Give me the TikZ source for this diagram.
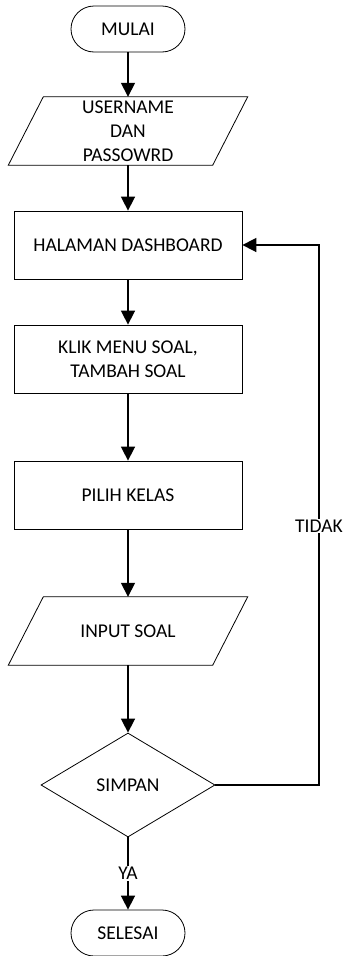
\documentclass[tikz,border=0pt]{standalone}
\usepackage{fontspec}
\setmainfont{Carlito}
\usetikzlibrary{shapes.geometric,arrows.meta}

\begin{document}
\begin{tikzpicture}[
  x=1pt, y=-1pt,
  every node/.style={font=\fontsize{19.5}{24}\selectfont, align=center},
  term/.style={draw, line width=0.8pt, rounded corners=23pt, minimum width=114pt, minimum height=46pt, inner sep=0pt},
  io/.style={minimum width=204pt, minimum height=68pt, inner sep=0pt},
  proc/.style={draw, line width=0.8pt, minimum width=228pt, minimum height=68pt, inner sep=0pt},
  dec/.style={draw, line width=0.8pt, diamond, aspect=1.67, minimum width=174pt, minimum height=104pt, inner sep=0pt},
  arr/.style={line width=1.6pt, -{Triangle[length=14pt,width=14pt]}},
  lbl/.style={fill=white, inner sep=1pt}
]
\useasboundingbox (0,0) rectangle (345,956);

\node[term] (mulai) at (128, 29) {MULAI};
\node[io] (user) at (128, 131) {USERNAME\\DAN\\PASSOWRD};
\node[proc] (dash) at (128, 245) {HALAMAN DASHBOARD};
\node[proc] (klik) at (128, 359) {KLIK MENU SOAL,\\TAMBAH SOAL};
\node[proc] (pilih) at (128, 495) {PILIH KELAS};
\node[io] (input) at (128, 631) {INPUT SOAL};
\node[dec] (simpan) at (128, 785) {SIMPAN};
\node[term] (selesai) at (128, 933) {SELESAI};

% parallelograms for input/output
\foreach \n in {user, input}
  \draw[line width=0.8pt] ([xshift=17.5pt]\n.north west) -- ([xshift=17.5pt]\n.north east)
    -- ([xshift=-17.5pt]\n.south east) -- ([xshift=-17.5pt]\n.south west) -- cycle;

\coordinate (balik) at (319, 245);

\draw[arr] (mulai) -- (user);
\draw[arr] (user) -- (dash);
\draw[arr] (dash) -- (klik);
\draw[arr] (klik) -- (pilih);
\draw[arr] (pilih) -- (input);
\draw[arr] (input) -- (simpan);
\draw[arr] (simpan) -- node[lbl, pos=0.5] {YA} (selesai);
\draw[arr] (simpan.east) -| node[lbl, pos=0.74] {TIDAK} (balik) -- (dash.east);
\end{tikzpicture}
\end{document}
